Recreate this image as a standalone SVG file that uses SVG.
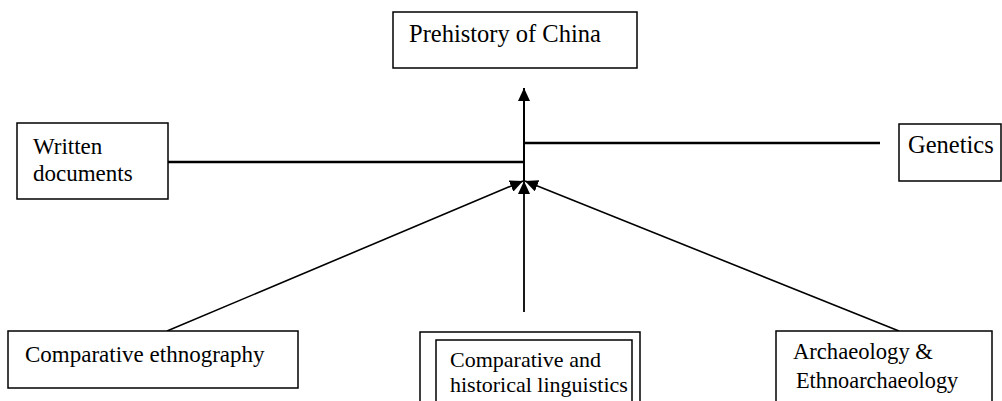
<svg xmlns="http://www.w3.org/2000/svg" width="1002" height="401" viewBox="0 0 1002 401">
<style>
.box{fill:#fff;stroke:#000;stroke-width:1.5}
.t{font-family:"Liberation Serif","Times New Roman",serif;fill:#000}
.c{stroke:#000;fill:none}
</style>
<defs>
<marker id="ah" markerUnits="userSpaceOnUse" markerWidth="13" markerHeight="12" refX="13" refY="6" orient="auto">
<path d="M0,0 L13,6 L0,12 z" fill="#000"/>
</marker>
</defs>
<rect width="1002" height="401" fill="#fff"/>
<g id="connectors">
<line class="c" x1="524" y1="181" x2="524" y2="88" stroke-width="2" marker-end="url(#ah)"/>
<line class="c" x1="168" y1="162" x2="524" y2="162" stroke-width="2.6"/>
<line class="c" x1="524" y1="143" x2="880" y2="143" stroke-width="2.6"/>
<line class="c" x1="167" y1="331" x2="523" y2="181" stroke-width="1.6" marker-end="url(#ah)"/>
<line class="c" x1="899" y1="331" x2="525" y2="181" stroke-width="1.6" marker-end="url(#ah)"/>
<line class="c" x1="524" y1="312" x2="524" y2="181" stroke-width="1.8" marker-end="url(#ah)"/>
</g>
<g id="prehistory">
<rect class="box" x="393" y="12" width="244" height="56"/>
<text class="t" x="409" y="42" font-size="24.5">Prehistory of China</text>
</g>
<g id="written">
<rect class="box" x="17" y="123" width="151" height="76"/>
<text class="t" x="33" y="154" font-size="23">Written</text>
<text class="t" x="33" y="181" font-size="23">documents</text>
</g>
<g id="genetics">
<rect class="box" x="899" y="124" width="102" height="57"/>
<text class="t" x="908" y="153" font-size="24.5">Genetics</text>
</g>
<g id="ethnography">
<rect class="box" x="8" y="331" width="290" height="57"/>
<text class="t" x="25" y="362" font-size="23">Comparative ethnography</text>
</g>
<g id="linguistics">
<rect class="box" x="420" y="332" width="220" height="80"/>
<rect class="box" x="436" y="340" width="196" height="72"/>
<text class="t" x="450" y="367" font-size="22">Comparative and</text>
<text class="t" x="450" y="392" font-size="22">historical linguistics</text>
</g>
<g id="archaeology">
<rect class="box" x="776" y="331" width="216" height="80"/>
<text class="t" x="793" y="359" font-size="22.6">Archaeology &amp;</text>
<text class="t" x="796" y="388" font-size="22.3">Ethnoarchaeology</text>
</g>
</svg>
